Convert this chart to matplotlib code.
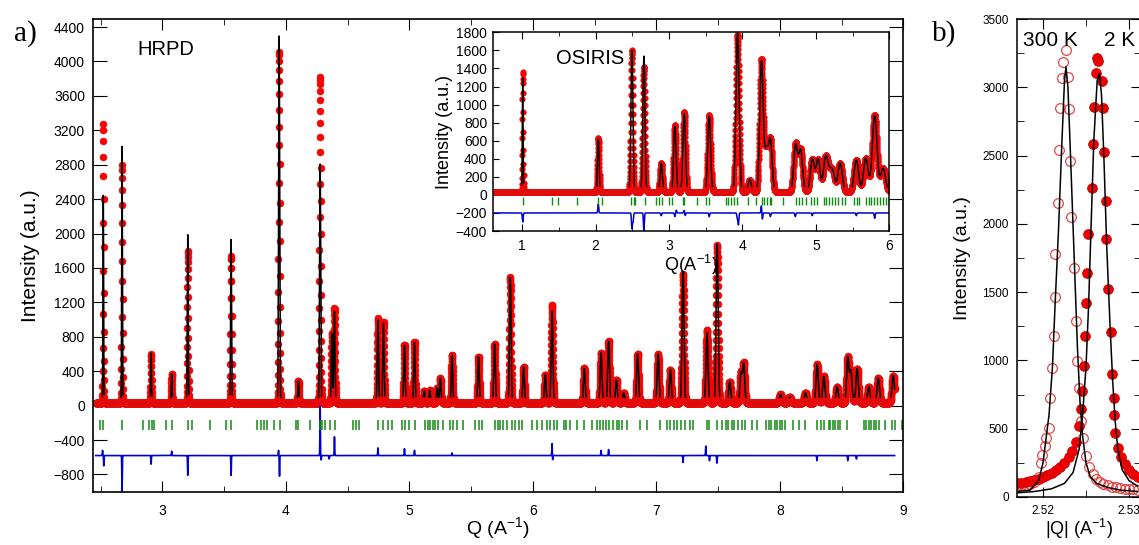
import numpy as np
import matplotlib.pyplot as plt
from matplotlib.ticker import MultipleLocator

plt.rcParams['font.family'] = ['Liberation Sans', 'DejaVu Sans']
plt.rcParams['mathtext.fontset'] = 'custom'
plt.rcParams['mathtext.rm'] = 'Liberation Sans'

# ---------------- HRPD (main panel a) ----------------
hrpd_base = 35
hrpd_peak_q = [2.521, 2.673, 2.908, 3.075, 3.205, 3.556, 3.945, 4.101, 4.277, 4.372,
               4.393, 4.745, 4.790, 4.960, 5.041, 5.120, 5.165, 5.225, 5.250, 5.345,
               5.560, 5.690, 5.817, 5.925, 6.100, 6.155, 6.416, 6.552, 6.613, 6.676,
               6.735, 6.848, 7.014, 7.113, 7.216, 7.410, 7.492, 7.594, 7.685, 7.707,
               8.005, 8.080, 8.207, 8.302, 8.356, 8.464, 8.550, 8.575, 8.626, 8.720,
               8.797, 8.918]
hrpd_obs_h = [3280, 2800, 600, 370, 1800, 1740, 4110, 290, 3820, 840,
              1130, 1015, 975, 710, 745, 170, 180, 210, 320, 590,
              570, 720, 1490, 450, 360, 1170, 435, 610, 750, 300,
              150, 600, 600, 420, 1525, 880, 1865, 280, 380, 490,
              130, 100, 150, 480, 340, 220, 560, 400, 430, 220,
              320, 350]
hrpd_calc_h = [2450, 3020, 610, 370, 1990, 1930, 4300, 290, 2810, 840,
               1100, 1000, 960, 700, 740, 170, 180, 210, 320, 590,
               570, 720, 1490, 450, 360, 1100, 435, 610, 750, 300,
               150, 600, 600, 420, 1560, 850, 1880, 280, 380, 490,
               130, 100, 150, 480, 340, 220, 560, 400, 430, 220,
               320, 350]
hrpd_diff_base = -580
hrpd_diff_q = [2.515, 2.525, 2.673, 2.908, 3.075, 3.205, 3.556, 3.940, 3.948, 4.277,
               4.285, 4.350, 4.393, 4.745, 4.960, 5.041, 5.345, 6.155, 6.160, 6.552,
               6.613, 7.216, 7.400, 7.430, 7.490, 8.300, 8.550, 8.620]
hrpd_diff_a = [60, -120, -420, -100, 50, -230, -230, 60, -240, 580,
               -50, -40, 220, 90, 80, 60, 30, 140, -50, 60,
               70, -80, 110, -60, -90, -60, -60, -40]
hrpd_refl = [2.494, 2.516, 2.675, 2.845, 2.891, 2.913, 2.932, 3.027, 3.080, 3.205,
             3.237, 3.386, 3.515, 3.553, 3.769, 3.797, 3.823, 3.850, 3.904, 3.953,
             4.080, 4.101, 4.196, 4.277, 4.296, 4.318, 4.358, 4.399, 4.547, 4.569,
             4.591, 4.745, 4.790, 4.826, 4.863, 4.939, 4.966, 4.993, 5.047, 5.128,
             5.150, 5.170, 5.190, 5.210, 5.230, 5.276, 5.330, 5.357, 5.385, 5.434,
             5.533, 5.560, 5.587, 5.695, 5.714, 5.736, 5.762, 5.790, 5.830, 5.857,
             5.884, 5.911, 5.993, 6.033, 6.074, 6.114, 6.141, 6.168, 6.195, 6.249,
             6.270, 6.303, 6.357, 6.411, 6.479, 6.520, 6.540, 6.570, 6.590, 6.620,
             6.650, 6.680, 6.700, 6.720, 6.760, 6.870, 6.925, 7.032, 7.086, 7.110,
             7.140, 7.170, 7.200, 7.230, 7.270, 7.300, 7.410, 7.430, 7.490, 7.530,
             7.560, 7.580, 7.610, 7.630, 7.660, 7.690, 7.720, 7.776, 7.816, 7.890,
             7.910, 7.930, 7.960, 7.980, 8.000, 8.020, 8.040, 8.110, 8.153, 8.207,
             8.300, 8.330, 8.360, 8.396, 8.410, 8.430, 8.450, 8.470, 8.490, 8.545,
             8.680, 8.700, 8.720, 8.740, 8.760, 8.780, 8.800, 8.855, 8.910, 8.930,
             8.990]

# ---------------- OSIRIS (inset) ----------------
osi_base = 30
osi_peak_q = [1.008, 2.037, 2.495, 2.658, 2.894, 3.080, 3.207, 3.547, 3.933, 4.100,
              4.259, 4.325, 4.380, 4.724, 4.792, 4.951, 5.030, 5.130, 5.180, 5.230,
              5.330, 5.550, 5.680, 5.800, 5.915]
osi_obs_h = [1364, 627, 1600, 1420, 350, 774, 921, 885, 1770, 165,
             1500, 478, 608, 563, 497, 394, 394, 394, 200, 240,
             350, 386, 405, 885, 295]
osi_calc_h = [1300, 620, 1600, 1538, 350, 760, 900, 870, 1790, 165,
              1480, 470, 600, 550, 490, 394, 394, 394, 200, 240,
              350, 386, 405, 880, 295]
osi_diff_base = -200
osi_diff_q = [1.008, 2.037, 2.495, 2.510, 2.658, 2.894, 3.080, 3.100, 3.207, 3.220,
              3.547, 3.930, 3.945, 4.259, 4.270, 4.380, 4.720, 4.950, 5.550, 5.800]
osi_diff_a = [-100, 100, -170, -100, -200, -30, -40, 30, 30, -30,
              -40, -60, -130, 90, -80, -40, -40, -30, -30, -60]
osi_refl = [1.016, 1.410, 1.490, 1.750, 2.035, 2.090, 2.480, 2.520, 2.540, 2.670,
            2.820, 2.870, 2.910, 3.000, 3.040, 3.190, 3.210, 3.380, 3.500, 3.550,
            3.780, 3.810, 3.840, 3.880, 3.920, 4.080, 4.190, 4.260, 4.290, 4.330,
            4.370, 4.390, 4.550, 4.730, 4.770, 4.810, 4.860, 4.930, 4.970, 5.020,
            5.110, 5.140, 5.180, 5.220, 5.260, 5.300, 5.350, 5.400, 5.520, 5.560,
            5.590, 5.680, 5.720, 5.750, 5.790, 5.830, 5.870, 5.910, 5.950, 5.990]

# ---------------- panel b: single peak at 300 K and 2 K ----------------
q300 = [2.5170, 2.5175, 2.5180, 2.5185, 2.5190, 2.5195, 2.51974, 2.51992, 2.52023, 2.5203,
        2.52068, 2.52087, 2.52105, 2.52124, 2.52136, 2.52143, 2.52173, 2.52181, 2.52200, 2.52226,
        2.52237, 2.52267, 2.52294, 2.52305, 2.52312, 2.52331, 2.52362, 2.52381, 2.52399, 2.52415,
        2.5244, 2.5246, 2.5250, 2.5254, 2.5258, 2.5262, 2.5266, 2.5270, 2.5275, 2.5280,
        2.5285, 2.5290, 2.5295, 2.5300, 2.5305, 2.5310]
i300 = [80, 85, 90, 95, 110, 150, 249, 310, 370, 432,
        505, 726, 946, 1178, 1467, 1777, 2156, 2540, 2848, 3066,
        3183, 3276, 3073, 2841, 2462, 2053, 1679, 1288, 994, 799,
        560, 430, 300, 220, 170, 135, 110, 95, 85, 75,
        70, 65, 60, 58, 55, 52]
q2 = [2.5170, 2.5175, 2.5180, 2.5185, 2.5190, 2.5195, 2.5200, 2.5205, 2.5210, 2.5215,
      2.5220, 2.5225, 2.5230, 2.5234, 2.5238, 2.52415, 2.52437, 2.52452, 2.52475, 2.52489,
      2.52505, 2.52512, 2.52527, 2.52565, 2.52576, 2.52596, 2.52614, 2.52625, 2.52640, 2.52682,
      2.52701, 2.52708, 2.52727, 2.52738, 2.52757, 2.52791, 2.52806, 2.52821, 2.52829, 2.52840,
      2.5287, 2.5291, 2.5295, 2.5300, 2.5305, 2.5310]
i2 = [100, 105, 110, 115, 125, 135, 145, 160, 175, 195,
      220, 250, 290, 340, 400, 519, 645, 779, 957, 1178,
      1423, 1643, 1924, 2266, 2584, 2858, 3105, 3215, 3195, 3049,
      2848, 2523, 2168, 1892, 1525, 1207, 902, 726, 597, 469,
      360, 290, 240, 200, 170, 150]
qc300 = [2.5169, 2.5185, 2.5195, 2.5200, 2.5203, 2.5207, 2.5211, 2.5214, 2.5218, 2.5222,
         2.5225, 2.52267, 2.5229, 2.5232, 2.5236, 2.5240, 2.5243, 2.5246, 2.5250, 2.5255,
         2.5262, 2.5275, 2.5290, 2.5310]
ic300 = [40, 50, 120, 250, 400, 600, 950, 1400, 1950, 2600,
         3050, 3150, 3000, 2500, 1800, 1100, 700, 450, 250, 150,
         100, 70, 50, 40]
qc2 = [2.5169, 2.5190, 2.5210, 2.5225, 2.5235, 2.5242, 2.5246, 2.5250, 2.5253, 2.5256,
       2.5259, 2.5263, 2.52655, 2.5268, 2.5271, 2.5274, 2.5278, 2.5281, 2.5284, 2.5287,
       2.5292, 2.5300, 2.5310]
ic2 = [30, 40, 60, 100, 180, 350, 600, 950, 1400, 2000,
       2600, 3050, 3100, 2950, 2450, 1850, 1250, 850, 550, 350,
       200, 120, 80]


def profile(q, centres, heights, base, width):
    y = np.full_like(q, float(base))
    for c, h in zip(centres, heights):
        s = width * c
        y += (h - base) * np.exp(-0.5 * ((q - c) / s) ** 2)
    return y


def spikes(q, centres, amps, base, s):
    y = np.full_like(q, float(base))
    for c, a in zip(centres, amps):
        y += a * np.exp(-0.5 * ((q - c) / s) ** 2)
    return y


red = '#ff0000'
green = '#138a13'
blue = '#0000d0'

fig = plt.figure(figsize=(11.39, 5.45), dpi=100)

# ---- main HRPD ----
ax = fig.add_axes([0.0819, 0.0978, 0.7112, 0.8668])
qh = np.arange(2.46, 8.93, 0.0008)
calc_h = profile(qh, hrpd_peak_q, hrpd_calc_h, hrpd_base, 0.0011)
# calc line hidden under the noisy background band, as in the original
calc_h = np.where(calc_h > hrpd_base + 60, calc_h, np.nan)
ax.plot(qh, profile(qh, hrpd_peak_q, hrpd_obs_h, hrpd_base, 0.0011), 'o', ms=5,
        mfc=red, mec='#e01010', mew=0.4, zorder=2)
ax.plot(qh, calc_h, '-', color='black', lw=1.1, zorder=3)
ax.plot(qh, spikes(qh, hrpd_diff_q, hrpd_diff_a, hrpd_diff_base, 0.0018), '-', color=blue,
        lw=1.2, zorder=2)
ax.vlines(hrpd_refl, -285, -165, color=green, lw=1.1, zorder=2)
ax.set_xlim(2.44, 9.0)
ax.set_ylim(-1000, 4490)
ax.xaxis.set_major_locator(MultipleLocator(1))
ax.xaxis.set_minor_locator(MultipleLocator(0.5))
ax.yaxis.set_major_locator(MultipleLocator(400))
ax.tick_params(which='both', direction='in', top=True, right=True, labelsize=10)
ax.tick_params(axis='y', which='major', length=10, pad=6)
ax.tick_params(axis='x', which='major', length=8, pad=9)
ax.tick_params(axis='x', which='minor', length=4)
ax.set_xlabel('Q (A$^{-1}$)', fontsize=14, labelpad=-2)
ax.set_ylabel('Intensity (a.u.)', fontsize=15, labelpad=10)
ax.text(0.055, 0.935, 'HRPD', transform=ax.transAxes, fontsize=14.5, ha='left', va='center')
for sp in ax.spines.values():
    sp.set_linewidth(1.2)

# ---- inset OSIRIS ----
axi = fig.add_axes([0.4326, 0.5761, 0.3482, 0.3646])
qo = np.arange(0.62, 5.99, 0.0015)
calc_o = profile(qo, osi_peak_q, osi_calc_h, osi_base, 0.0055)
calc_o = np.where(calc_o > osi_base + 60, calc_o, np.nan)
axi.plot(qo, profile(qo, osi_peak_q, osi_obs_h, osi_base, 0.0055), 'o', ms=4,
         mfc=red, mec='#e01010', mew=0.4, zorder=2)
axi.plot(qo, calc_o, '-', color='black', lw=1.0, zorder=3)
axi.plot(qo, spikes(qo, osi_diff_q, osi_diff_a, osi_diff_base, 0.006), '-', color=blue,
         lw=1.1, zorder=2)
axi.vlines(osi_refl, -110, -25, color=green, lw=1.0, zorder=2)
axi.set_xlim(0.6, 6.0)
axi.set_ylim(-400, 1800)
axi.xaxis.set_major_locator(MultipleLocator(1))
axi.xaxis.set_minor_locator(MultipleLocator(0.5))
axi.yaxis.set_major_locator(MultipleLocator(200))
axi.tick_params(which='both', direction='in', top=True, right=False, labelsize=10)
axi.tick_params(axis='y', which='major', length=4, pad=4)
axi.tick_params(axis='x', which='major', length=5, pad=6)
axi.tick_params(axis='x', which='minor', length=3)
axi.set_xlabel('Q(A$^{-1}$)', fontsize=13, labelpad=0)
axi.set_ylabel('Intensity (a.u.)', fontsize=13, labelpad=2)
axi.text(0.245, 0.87, 'OSIRIS', transform=axi.transAxes, fontsize=14.5, ha='center', va='center')
for sp in axi.spines.values():
    sp.set_linewidth(1.1)

# ---- panel b ----
axb = fig.add_axes([0.8929, 0.0881, 0.1089, 0.877])
axb.plot(q300, i300, 'o', ms=7, mfc='none', mec='#e04848', mew=0.9, zorder=2)
axb.plot(q2, i2, 'o', ms=7, mfc='#ee0000', mec='#cc0000', mew=0.6, zorder=2)
axb.plot(qc300, ic300, '-', color='black', lw=1.1, zorder=3)
axb.plot(qc2, ic2, '-', color='black', lw=1.1, zorder=3)
axb.set_xlim(2.51698, 2.53140)
axb.set_ylim(0, 3500)
axb.xaxis.set_major_locator(MultipleLocator(0.01))
axb.xaxis.set_minor_locator(MultipleLocator(0.005))
axb.yaxis.set_major_locator(MultipleLocator(500))
axb.yaxis.set_minor_locator(MultipleLocator(250))
axb.tick_params(which='both', direction='in', top=True, right=True, labelsize=8.5)
axb.tick_params(which='major', length=7, pad=6)
axb.tick_params(which='minor', length=5)
axb.set_xlabel('|Q| (A$^{-1}$)', fontsize=13, labelpad=0)
axb.set_ylabel('Intensity (a.u.)', fontsize=14, labelpad=8)
axb.text(0.05, 0.955, '300 K', transform=axb.transAxes, fontsize=15, ha='left', va='center')
axb.text(0.70, 0.955, '2 K', transform=axb.transAxes, fontsize=15, ha='left', va='center')
for sp in axb.spines.values():
    sp.set_linewidth(1.1)

fig.text(0.022, 0.938, 'a)', fontsize=21, family='Liberation Serif', ha='center', va='center')
fig.text(0.829, 0.938, 'b)', fontsize=21, family='Liberation Serif', ha='center', va='center')

fig.savefig('out.png', dpi=100, facecolor='white')
